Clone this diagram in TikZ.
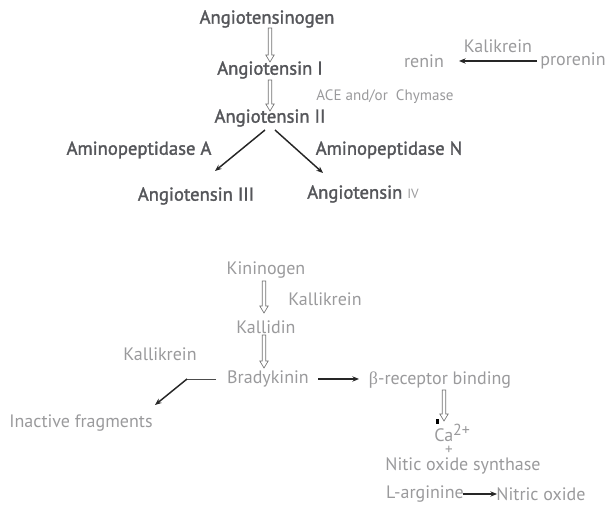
\documentclass[tikz,border=0pt]{standalone}
\usepackage{fontspec}
\setmainfont{PT Sans}
\newfontfamily\semib[FakeBold=1.6]{PT Sans}
\newfontfamily\grk{Liberation Serif}
\usetikzlibrary{arrows.meta,calc}
\definecolor{dk}{HTML}{55565A}
\definecolor{lt}{HTML}{9A9A9C}
\tikzset{
  dlab/.style={inner sep=0pt,text=dk,font=\semib\fontsize{14}{16}\selectfont},
  llab/.style={inner sep=0pt,text=lt,font=\fontsize{13.5}{15}\selectfont},
  slab/.style={inner sep=0pt,text=lt,font=\fontsize{11.3}{13}\selectfont},
  arr/.style={line width=1.1pt,draw=black!85,-{Stealth[length=5pt,width=4pt]}},
  hol/.style={draw=black!55,line width=0.5pt,fill=white},
}
% hollow arrow from coordinate #1 down to coordinate #2 (same x)
\newcommand\hollowarrow[2]{%
  \draw[hol] ($(#1)+(-1.8,0)$) -- ($(#2)+(-1.8,-7)$) -- ($(#2)+(-4.2,-7)$) -- (#2)
   -- ($(#2)+(4.2,-7)$) -- ($(#2)+(1.8,-7)$) -- ($(#1)+(1.8,0)$) -- cycle;}
\begin{document}
\begin{tikzpicture}[x=0.75pt,y=-0.75pt]
\useasboundingbox (0,0) rectangle (608,506);
% top
\node[dlab] (agn) at (267,19) {Angiotensinogen};
\node[dlab] (a1) at (270,70) {Angiotensin I};
\node[dlab] (a2) at (270,118) {Angiotensin II};
\node[slab] (ace) at (385,97) {ACE and/or\ \ Chymase};
\node[dlab] (apa) at (139,150) {Aminopeptidase A};
\node[dlab] (apn) at (389,150) {Aminopeptidase N};
\node[dlab] (a3) at (196,196) {Angiotensin III};
\node[dlab,anchor=west] (a4) at (307,194) {Angiotensin {\normalfont\fontsize{10}{11}\selectfont\color{lt}IV}};
\coordinate (h1s) at (270,28);
\coordinate (h1e) at (270,62);
\coordinate (h2s) at (270,80);
\coordinate (h2e) at (270,111);
\hollowarrow{h1s}{h1e}
\hollowarrow{h2s}{h2e}
\coordinate (a2l) at (265,130);
\coordinate (a2r) at (275,130);
\coordinate (a3t) at (215,171);
\coordinate (a4t) at (323,173);
\draw[arr] (a2l) -- (a3t);
\draw[arr] (a2r) -- (a4t);
\node[llab] (renin) at (424,61) {renin};
\node[llab] (kal) at (498,46) {Kalikrein};
\node[llab] (pro) at (573,61) {prorenin};
\coordinate (pw) at (537,61);
\coordinate (rw) at (459,61);
\draw[arr,line width=0.9pt] (pw) -- (rw);
% bottom
\node[llab] (kin) at (266,270) {Kininogen};
\node[llab] (kk1) at (325,299) {Kallikrein};
\node[llab] (kld) at (266,327) {Kallidin};
\node[llab] (kk2) at (160,354) {Kallikrein};
\node[llab] (bk) at (268,379) {Bradykinin};
\node[llab] (inf) at (81,423) {Inactive fragments};
\node[llab] (beta) at (440,380) {{\grk β}-receptor binding};
\node[llab,anchor=west] (ca) at (434,433) {Ca\raisebox{4.5pt}{\fontsize{12}{13}\selectfont 2+}};
\node[slab] (plus) at (449,450) {+};
\node[llab] (nos) at (463,466) {Nitic oxide synthase};
\node[llab] (larg) at (425,494) {L-arginine};
\node[llab] (no) at (541,494) {Nitric oxide};
\coordinate (h3s) at (264,281);
\coordinate (h3e) at (264,313);
\coordinate (h4s) at (264,335);
\coordinate (h4e) at (264,368);
\coordinate (h5s) at (444,390);
\coordinate (h5e) at (444,421);
\hollowarrow{h3s}{h3e}
\hollowarrow{h4s}{h4e}
\hollowarrow{h5s}{h5e}
\coordinate (bkw) at (216,379);
\coordinate (bend) at (187,379);
\coordinate (inft) at (155,405);
\draw[line width=0.7pt,black!70] (bkw) -- (bend);
\draw[arr] (bend) -- (inft);
\coordinate (bke) at (318,379);
\coordinate (btw) at (359,379);
\draw[arr] (bke) -- (btw);
\coordinate (lae) at (463,494);
\coordinate (now) at (497,494);
\draw[arr,line width=0.8pt] (lae) -- (now);
\fill[black] (435.5,419.5) rectangle (439,424);
\end{tikzpicture}
\end{document}
